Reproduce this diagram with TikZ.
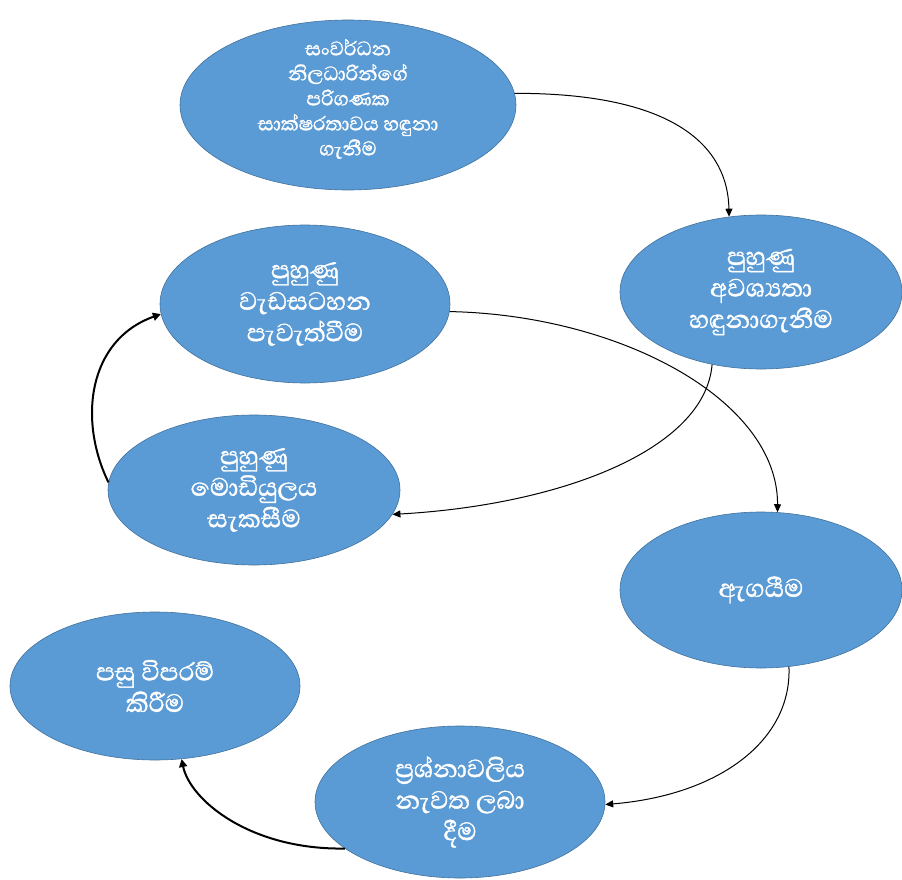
\documentclass[tikz,border=0pt]{standalone}
\usepackage{fontspec}
\newfontfamily\sinhala[Script=Sinhala,FakeBold=1.2]{Abhaya Libre}
\usetikzlibrary{shapes.geometric,arrows.meta}
\definecolor{ellfill}{HTML}{5B9BD5}
\definecolor{elldraw}{HTML}{41719C}
\tikzset{
  ell/.style={ellipse, fill=ellfill, draw=elldraw, line width=0.6pt, inner sep=0pt,
    text=white, align=center, font=\sinhala\fontsize{32}{31.5}\selectfont},
  smalltext/.style={font=\sinhala\fontsize{25}{25}\selectfont},
  thinarrow/.style={draw=black, line width=1pt, -{Triangle[length=8pt,width=7pt]}},
  thickarrow/.style={draw=black, line width=2pt, -{Triangle[length=8pt,width=8pt]}}
}
\begin{document}
\begin{tikzpicture}[x=1pt,y=-1pt]
\useasboundingbox (0,0) rectangle (902,880);
\node[ell, smalltext, minimum width=336pt, minimum height=170pt] (e1) at (348,105) {};
\node[text=white, align=center, font=\sinhala\fontsize{25}{25}\selectfont] (t1) at (e1.center) [yshift=6pt]
  {සංවර්ධන\\නිලධාරින්ගේ\\පරිගණක\\සාක්ෂරතාවය හඳුනා\\ගැනීම};
\node[ell, minimum width=282pt, minimum height=154pt] (e2) at (761,292)
  {පුහුණු\\අවශ්‍යතා\\හඳුනාගැනීම};
\node[ell, minimum width=290pt, minimum height=158pt] (e3) at (305,304)
  {පුහුණු\\වැඩසටහන\\පැවැත්වීම};
\node[ell, minimum width=292pt, minimum height=150pt] (e4) at (254,490)
  {පුහුණු\\මොඩියුලය\\සැකසීම};
\node[ell, minimum width=282pt, minimum height=156pt] (e5) at (761,590)
  {ඇගයීම};
\node[ell, minimum width=290pt, minimum height=148pt] (e6) at (155,686)
  {පසු විපරම්\\කිරීම};
\node[ell, minimum width=290pt, minimum height=152pt] (e7) at (460,802)
  {ප්‍රශ්නාවලිය\\නැවත ලබා\\දීම};
% connectors
\draw[thinarrow] (e1.4) .. controls (680,93) and (728,150) .. (e2.113);
\draw[thinarrow] (e2.-124) .. controls (705,450) and (560,505) .. (e4.-10);
\draw[thinarrow] (e3.-3) .. controls (620,315) and (778,400) .. (e5.78);
\draw[thinarrow] (e5.-70) .. controls (792,740) and (720,795) .. (e7.-1);
\draw[thickarrow] (e7.-158) .. controls (250,850) and (190,800) .. (e6.-70);
\draw[thickarrow] (e4.177) .. controls (78,420) and (88,340) .. (e3.184);
\end{tikzpicture}
\end{document}
